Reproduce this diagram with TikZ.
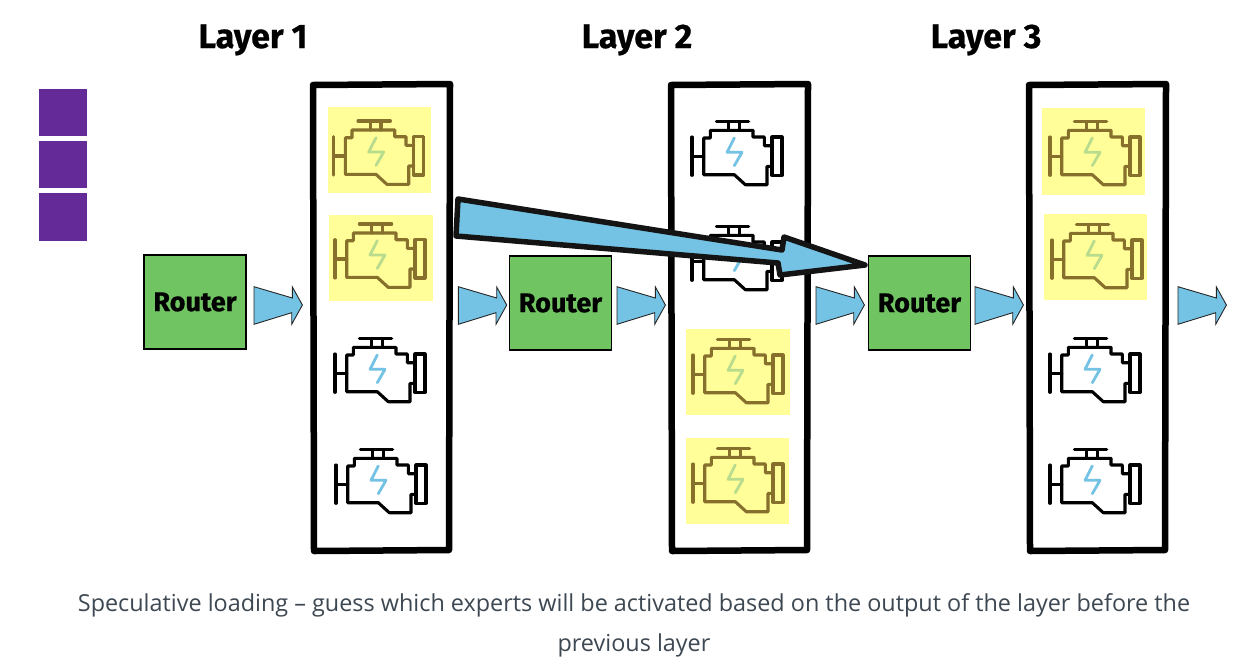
\documentclass[tikz,border=0pt]{standalone}
\usepackage{fontspec}
\setmainfont{Open Sans}
\newfontfamily\titlefont{Fira Sans}[UprightFont=* Bold,FakeBold=0.6]
\definecolor{arrowblue}{HTML}{74C3E5}
\definecolor{routergreen}{HTML}{70C462}
\definecolor{hl}{HTML}{FFFE99}
\definecolor{hlink}{HTML}{86702C}
\definecolor{hlbolt}{HTML}{B8DB8E}
\definecolor{purple1}{HTML}{642B98}
\definecolor{captiontext}{HTML}{3D4852}
\tikzset{
  x=1pt,y=-1pt,
  frame/.style={draw=black,line width=6.5pt,line join=round,fill=white},
  router/.style={draw=black,line width=1.6pt,fill=routergreen,minimum width=102pt,minimum height=94pt,inner sep=0pt,font=\titlefont\fontsize{27}{27}\selectfont},
  title/.style={font=\titlefont\fontsize{34}{34}\selectfont,inner sep=0pt},
  hlbox/.style={fill=hl,draw=none},
  block/.style={fill=purple1,draw=none},
  smallarrow/.style={draw=black!85,fill=arrowblue,line width=0.9pt,line join=miter},
  bigarrow/.style={draw=black!92,fill=arrowblue,line width=5.5pt,line join=round},
  eng/.style={line width=3.1pt,line join=round,line cap=round,draw=#1},
  bolt/.style={line width=2.8pt,line join=round,line cap=round,draw=#1},
  caption/.style={font=\fontsize{23.4}{40}\selectfont,text=captiontext,align=center,inner sep=0pt}
}
\newcommand{\engine}[4]{%
\begin{scope}[shift={(#1,#2)}]
 \draw[eng=#3] (39.3,8.3) -- (71.7,8.3);
 \draw[eng=#3] (51.7,8.3) -- (51.7,17.3) (62.3,8.3) -- (62.3,17.3);
 \draw[eng=#3] (95,53.3) -- (90,53.3) -- (90,71.7) -- (68.3,71.7) -- (57.3,61.7) -- (26.7,61.7) -- (26.7,25) -- (33.3,25) -- (33.3,17.3) -- (76,17.3) -- (76,24) -- (87.3,24) -- (87.3,32.7) -- (95,32.7);
 \draw[eng=#3] (95,24) -- (105,24) -- (105,62.3) -- (95,62.3) -- cycle;
 \draw[eng=#3] (15,24) -- (15,62.3) (15,43.3) -- (26.7,43.3);
 \draw[bolt=#4] (57.3,25) -- (50,39.3) -- (65,39.3) -- (57.3,52.7);
\end{scope}}
\newcommand{\smarrow}[1]{%
\begin{scope}[shift={(#1,0)}]
 \draw[smallarrow] (0,286.7) -- (38.4,298) -- (38.4,287) -- (48.4,305) -- (37.7,324.3) -- (37.7,312.7) -- (0,324.3) -- cycle;
\end{scope}}
\begin{document}
\begin{tikzpicture}
\useasboundingbox[fill=white] (0,0) rectangle (1252,670);
% titles
\node[title] (t1) at (253,40) {Layer 1};
\node[title] (t2) at (637,40) {Layer 2};
\node[title] (t3) at (986,40) {Layer 3};
% purple blocks
\fill[block] (39,89) rectangle (87,136);
\fill[block] (39,141) rectangle (87,188);
\fill[block] (39,193) rectangle (87,241);
% frames
\draw[frame] (313,85) -- (450,84) -- (449,550) -- (314,551) -- cycle;
\draw[frame] (671,85) -- (808,84) -- (807,550) -- (672,551) -- cycle;
\draw[frame] (1029,85) -- (1166,84) -- (1165,550) -- (1030,551) -- cycle;
% layer 1
\fill[hlbox] (328,107) rectangle (431,193);
\fill[hlbox] (329,215) rectangle (433,301);
\engine{318.7}{112.7}{hlink}{hlbolt}
\engine{320}{215.7}{hlink}{hlbolt}
\engine{320}{330}{black}{arrowblue}
\engine{321}{441}{black}{arrowblue}
% layer 2
\fill[hlbox] (686,329) rectangle (790,415);
\fill[hlbox] (686,438) rectangle (789,524);
\engine{677}{113}{black}{arrowblue}
\engine{677}{218}{black}{arrowblue}
\engine{678}{331}{hlink}{hlbolt}
\engine{678}{440}{hlink}{hlbolt}
% layer 3
\fill[hlbox] (1042,108) rectangle (1145,195);
\fill[hlbox] (1044,214) rectangle (1147,300);
\engine{1035}{113}{hlink}{hlbolt}
\engine{1037}{216}{hlink}{hlbolt}
\engine{1035}{330}{black}{arrowblue}
\engine{1035}{441}{black}{arrowblue}
% routers
\node[router] (r1) at (195,302) {Router};
\node[router] (r2) at (560.5,303) {Router};
\node[router] (r3) at (919.5,303) {Router};
% small arrows
\smarrow{254}\smarrow{458.3}\smarrow{617}\smarrow{816}\smarrow{975}\smarrow{1178}
% big arrow
\draw[bigarrow] (458,199) -- (782,250) -- (784,237) -- (865,265) -- (780,275) -- (778,263) -- (456,236) -- cycle;
% caption
\node[caption] (cap) at (634,625) {Speculative loading – guess which experts will be activated based on the output of the layer before the\\previous layer};
\end{tikzpicture}
\end{document}
